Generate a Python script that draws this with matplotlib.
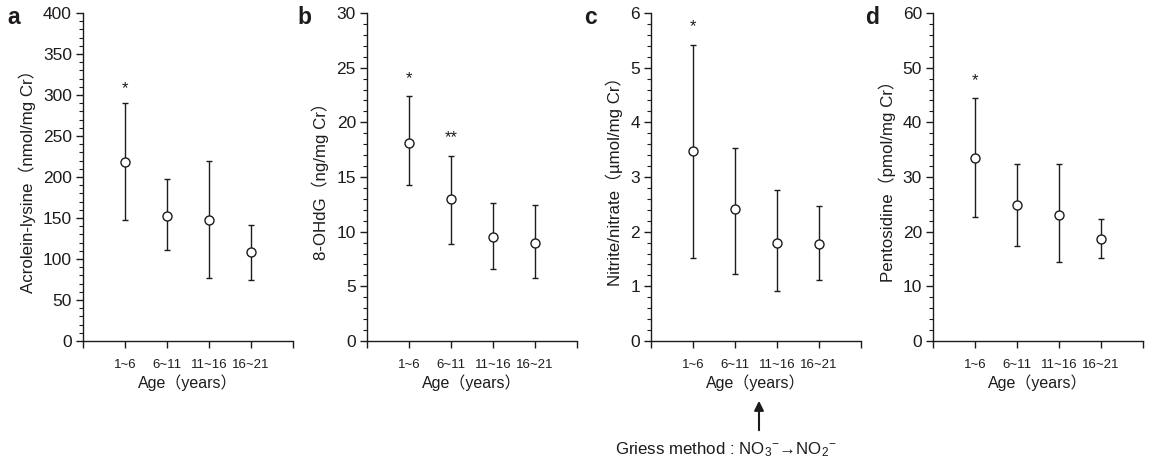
import matplotlib
matplotlib.use("Agg")
import matplotlib.pyplot as plt
from matplotlib.ticker import MultipleLocator, FixedLocator
import numpy as np

FAM = ['Liberation Sans', 'Noto Sans CJK JP', 'DejaVu Sans']
plt.rcParams['font.family'] = FAM
plt.rcParams['mathtext.fontset'] = 'custom'
plt.rcParams['mathtext.rm'] = 'Liberation Sans'
plt.rcParams['mathtext.it'] = 'Liberation Sans'
plt.rcParams['mathtext.bf'] = 'Liberation Sans:bold'

categories = ["1~6", "6~11", "11~16", "16~21"]

acrolein_mean = [218, 152, 147, 108]
acrolein_low = [147, 111, 77, 74]
acrolein_high = [290, 198, 219, 141]

ohdg_mean = [18.1, 13.0, 9.5, 9.0]
ohdg_low = [14.3, 8.9, 6.6, 5.8]
ohdg_high = [22.4, 16.9, 12.6, 12.4]

nitrite_mean = [3.47, 2.41, 1.80, 1.77]
nitrite_low = [1.52, 1.23, 0.91, 1.11]
nitrite_high = [5.42, 3.53, 2.77, 2.47]

pento_mean = [33.4, 24.8, 23.1, 18.7]
pento_low = [22.6, 17.4, 14.5, 15.1]
pento_high = [44.5, 32.3, 32.3, 22.4]

panels = [
    dict(letter="a", ylabel="Acrolein-lysine（nmol/mg Cr）", mean=acrolein_mean,
         low=acrolein_low, high=acrolein_high, ymax=400, major=50, minor=10,
         stars=[("*", 0, 308)], left=83, lx=7),
    dict(letter="b", ylabel="8-OHdG（ng/mg Cr）", mean=ohdg_mean,
         low=ohdg_low, high=ohdg_high, ymax=30, major=5, minor=1,
         stars=[("*", 0, 24.0), ("**", 1, 18.6)], left=367, lx=297),
    dict(letter="c", ylabel="Nitrite/nitrate（µmol/mg Cr）", mean=nitrite_mean,
         low=nitrite_low, high=nitrite_high, ymax=6, major=1, minor=0.2,
         stars=[("*", 0, 5.75)], left=651, lx=584),
    dict(letter="d", ylabel="Pentosidine（pmol/mg Cr）", mean=pento_mean,
         low=pento_low, high=pento_high, ymax=60, major=10, minor=2,
         stars=[("*", 0, 47.6)], left=933, lx=865),
]

W, H = 1152, 463
fig = plt.figure(figsize=(W / 100, H / 100), dpi=100)
txtc = "#1e1b1c"
top_px, bot_px, width_px = 13, 341, 210
x = np.arange(1, len(categories) + 1)

for p in panels:
    ax = fig.add_axes([p["left"] / W, (H - bot_px) / H, width_px / W, (bot_px - top_px) / H])
    mean = np.array(p["mean"])
    yerr = [mean - np.array(p["low"]), np.array(p["high"]) - mean]
    ax.errorbar(x, mean, yerr=yerr, fmt="o", color=txtc, ecolor=txtc, elinewidth=1.0,
                capsize=2.5, capthick=1.0, markersize=6.5, markerfacecolor="white",
                markeredgecolor=txtc, markeredgewidth=1.0, zorder=3)
    ax.set_xlim(0, 5)
    ax.set_ylim(0, p["ymax"])
    ax.spines["top"].set_visible(False)
    ax.spines["right"].set_visible(False)
    for s in ("left", "bottom"):
        ax.spines[s].set_linewidth(1.0)
        ax.spines[s].set_color(txtc)
    ax.yaxis.set_major_locator(MultipleLocator(p["major"]))
    ax.yaxis.set_minor_locator(MultipleLocator(p["minor"]))
    ax.xaxis.set_major_locator(FixedLocator([0, 1, 2, 3, 4, 5]))
    ax.set_xticklabels([""] + categories + [""], fontsize=9.5, color=txtc)
    ax.tick_params(axis="y", which="major", length=5, width=1.0, labelsize=12.5,
                   colors=txtc, pad=3)
    ax.tick_params(axis="y", which="minor", length=3, width=0.8, colors=txtc)
    ax.tick_params(axis="x", which="major", length=5, width=1.0, colors=txtc, pad=8)
    ax.set_ylabel(p["ylabel"], fontsize=12.2, color=txtc, labelpad=5)
    ax.set_xlabel("Age（years）", fontsize=11.5, color=txtc, labelpad=2)
    for s, i, yv in p["stars"]:
        ax.text(x[i], yv, s, ha="center", va="center", fontsize=12, color=txtc)
    fig.text(p["lx"] / W, (H - 17) / H, p["letter"], fontsize=16.5,
             fontweight="bold", color=txtc, ha="left", va="center")

# Griess annotation under panel c
fig.add_artist(matplotlib.patches.FancyArrowPatch(
    (759 / W, (H - 433) / H), (759 / W, (H - 398) / H),
    transform=fig.transFigure, arrowstyle="-|>", mutation_scale=14,
    color=txtc, linewidth=1.5))
fig.text(726 / W, (H - 450) / H, r"Griess method : NO$_3$$^{-}$→NO$_2$$^{-}$",
         fontsize=12.2, color=txtc, ha="center", va="center")

fig.savefig("out.png", dpi=100)
